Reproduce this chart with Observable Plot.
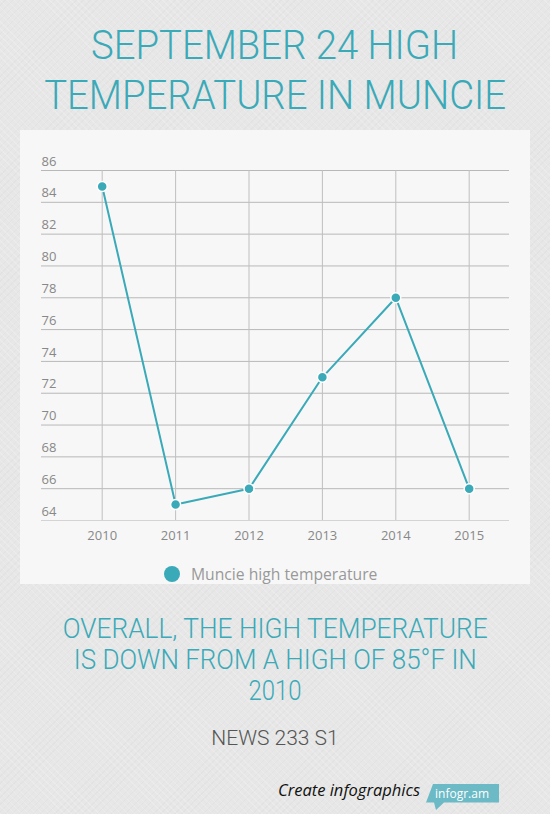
<!DOCTYPE html>
<html>
<head>
<meta charset="utf-8">
<script src="https://cdn.jsdelivr.net/npm/d3@7"></script>
<script src="https://cdn.jsdelivr.net/npm/@observablehq/plot@0.6"></script>
<style>
  html, body { margin: 0; padding: 0; }
  body {
    width: 550px; height: 814px; position: relative; overflow: hidden;
    background-color: #e6e7e6;
    background-image:
      repeating-linear-gradient(45deg, rgba(255,255,255,0.18) 0 1px, transparent 1px 5px),
      repeating-linear-gradient(-45deg, rgba(0,0,0,0.02) 0 1px, transparent 1px 5px);
    font-family: Roboto, "Open Sans", sans-serif;
  }
  .title {
    position: absolute; left: 0; width: 550px; top: 20px; text-align: center;
    color: #3aa9b8; font-weight: 300; font-size: 41px; line-height: 50px;
  }
  .title span, .sub span { display: inline-block; transform-origin: center; white-space: nowrap; }
  .panel {
    position: absolute; left: 20px; top: 130px; width: 510px; height: 454px;
    background: #f7f7f7;
  }
  .legend {
    position: absolute; left: 144px; top: 434px; height: 20px;
    font-family: "Open Sans", sans-serif; font-size: 15.7px; color: #999;
    display: flex; align-items: center;
  }
  .legend i {
    display: inline-block; width: 16px; height: 16px; border-radius: 50%;
    background: #3aa9b8; margin-right: 11px;
  }
  .sub {
    position: absolute; left: 0; width: 550px; top: 614px; text-align: center;
    color: #3aa9b8; font-weight: 300; font-size: 27px; line-height: 31px;
  }
  .news {
    position: absolute; left: 0; width: 550px; top: 726px; text-align: center;
    color: #555; font-weight: 300; font-size: 21px;
  }
  .create {
    position: absolute; left: 278px; top: 780px; line-height: 20px;
    font-family: "Open Sans", sans-serif; font-style: italic; font-size: 16.5px; color: #111;
  }
  .badge { position: absolute; left: 420px; top: 782px; }
</style>
</head>
<body>
<div class="title"><span id="t1">SEPTEMBER 24 HIGH</span><br><span id="t2">TEMPERATURE IN MUNCIE</span></div>
<div class="panel">
  <div id="chart"></div>
  <div class="legend"><i></i><span id="seriesName"></span></div>
</div>
<div class="sub"><span id="s1">OVERALL, THE HIGH TEMPERATURE</span><br><span id="s2">IS DOWN FROM A HIGH OF 85°F IN</span><br><span id="s3">2010</span></div>
<div class="news">NEWS 233 S1</div>
<div class="create">Create infographics</div>
<svg class="badge" width="82" height="32" viewBox="0 0 82 32">
  <polygon points="13,2 79,2 79,20.5 24,20.5 16,28 14,20.5 6,20.5" fill="#6bbac6"/>
  <text x="42" y="15.5" text-anchor="middle" font-family="Open Sans, sans-serif" font-size="12" fill="#fff">infogr.am</text>
</svg>
<script>
const years = [2010, 2011, 2012, 2013, 2014, 2015];
const temps = [85, 65, 66, 73, 78, 66];
const yTicks = [64, 66, 68, 70, 72, 74, 76, 78, 80, 82, 84, 86];
const seriesName = "Muncie high temperature";

document.getElementById("seriesName").textContent = seriesName;

const data = years.map((y, i) => ({year: y, temp: temps[i]}));
const teal = "#3aa9b8";

const chart = Plot.plot({
  width: 510,
  height: 420,
  marginLeft: 21,
  marginRight: 21,
  marginTop: 40,
  marginBottom: 30,
  style: {background: "transparent", fontFamily: "'Open Sans', sans-serif", fontSize: "13px", color: "#888"},
  x: {type: "linear", domain: [years[0], years[years.length - 1]], range: [81.7, 448.7], axis: null},
  y: {domain: [yTicks[0], yTicks[yTicks.length - 1]], axis: null},
  marks: [
    Plot.gridY(yTicks.slice(1), {stroke: "#b8b8b8", strokeOpacity: 1}),
    Plot.ruleY([yTicks[0]], {stroke: "#d4d4d4"}),
    Plot.gridX(years, {stroke: "#bfbfbf", strokeOpacity: 1}),
    Plot.axisY(yTicks, {anchor: "left", label: null, tickSize: 0, tickPadding: 0, textAnchor: "start", dy: -9, fill: "#888", fontSize: 13}),
    Plot.axisX(years, {anchor: "bottom", label: null, tickSize: 0, tickPadding: 10, tickFormat: d => String(d), fill: "#888", fontSize: 13}),
    Plot.line(data, {x: "year", y: "temp", stroke: teal, strokeWidth: 2}),
    Plot.dot(data, {x: "year", y: "temp", r: 5, fill: teal, stroke: "#fff", strokeWidth: 1.5})
  ]
});
document.getElementById("chart").appendChild(chart);

// fit headline lines to the widths seen in the reference
function fit(id, w) {
  const el = document.getElementById(id);
  const cur = el.getBoundingClientRect().width;
  if (cur > 0) el.style.transform = `scaleX(${w / cur})`;
}
fit("t1", 367); fit("t2", 462);
fit("s1", 425); fit("s2", 403); fit("s3", 53);
</script>
</body>
</html>
